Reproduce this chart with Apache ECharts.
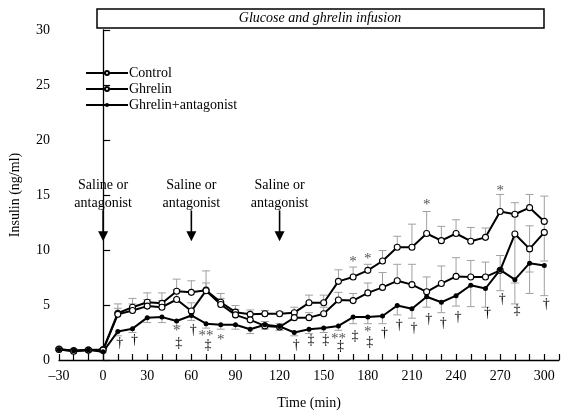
<!DOCTYPE html>
<html><head><meta charset="utf-8">
<script src="https://cdn.jsdelivr.net/npm/echarts@6/dist/echarts.min.js"></script>
<style>html,body{margin:0;padding:0;background:#fff}#c{width:567px;height:415px}</style>
</head><body><div id="c"></div>
<script>
// ---- data ----
const times = [-30,-20,-10,0,10,20,30,40,50,60,70,80,90,100,110,120,130,140,150,160,170,180,190,200,210,220,230,240,250,260,270,280,290,300];
const control = [1.0,0.85,0.9,0.95,4.25,4.8,5.25,5.15,6.25,6.15,6.35,5.25,4.35,4.15,4.2,4.2,4.3,5.2,5.2,7.15,7.55,8.15,9.0,10.25,10.25,11.5,10.85,11.5,10.8,11.15,13.5,13.25,13.85,12.6];
const controlHi = [1.1,1.0,1.0,1.05,5.1,5.6,6.1,6.1,7.35,7.2,8.1,6.05,4.95,4.55,4.5,4.4,4.8,5.9,5.9,8.2,8.45,8.7,9.95,11.25,12.35,13.5,12.15,12.75,12.05,12.0,15.05,14.3,15.05,14.9];
const ghrelin = [0.95,0.8,0.9,0.9,4.15,4.5,4.9,4.8,5.5,4.45,6.3,5.05,4.1,3.65,3.1,3.0,3.85,3.85,4.2,5.45,5.4,6.1,6.6,7.2,6.85,6.2,6.95,7.6,7.55,7.55,8.15,11.45,10.1,11.6];
const ghrelinHi = [1.05,0.9,1.0,1.0,4.7,5.1,5.5,5.4,6.4,5.2,7.0,5.6,4.6,4.2,3.5,3.3,4.3,4.3,4.8,6.15,6.05,7.0,7.95,8.7,8.7,7.55,8.55,9.3,9.05,8.9,9.5,13.1,12.2,12.6];
const ghrelinLo = [0.95,0.8,0.9,0.9,4.15,4.5,4.9,4.8,5.5,4.45,6.3,5.05,4.1,3.65,3.1,3.0,3.85,3.85,4.2,5.45,5.4,6.1,6.6,7.2,6.85,6.2,6.95,7.6,7.55,7.55,8.15,7.0,8.0,9.0];
const ghrelinAnt = [0.95,0.85,0.9,0.75,2.6,2.85,3.85,3.9,3.55,4.05,3.3,3.2,3.2,2.8,3.2,3.05,2.5,2.8,2.9,3.1,3.9,3.9,4.0,4.95,4.65,5.75,5.25,5.85,6.8,6.5,8.2,7.3,8.8,8.6];
const ghrelinAntLo = [0.85,0.75,0.8,0.65,2.2,2.5,3.4,3.4,3.1,3.6,2.9,2.8,2.8,2.4,2.8,2.7,2.2,2.4,2.5,2.7,3.3,3.3,3.3,4.1,3.8,4.8,4.3,4.9,4.85,4.8,6.3,5.1,6.05,5.85];
const seriesNames = ['Control','Ghrelin','Ghrelin+antagonist'];
const xTickLabels = [-30,0,30,60,90,120,150,180,210,240,270,300];
const yTickLabels = [0,5,10,15,20,25,30];
const arrowTimes = [0,60,120];
const arrowText = 'Saline or\nantagonist';
// significance marks: [time, level, text]
const marks = [
  [10,1.5,'†'],[20,1.8,'†'],[50,2.6,'*'],[50,1.5,'‡'],[60,2.7,'†'],[70,2.15,'**'],[70,1.3,'‡'],[80,1.85,'*'],
  [130,1.3,'†'],[140,1.75,'‡'],[150,1.75,'‡'],[160,1.9,'**'],[160,1.2,'‡'],[170,2.15,'‡'],[180,2.5,'*'],[180,1.6,'‡'],
  [190,2.45,'†'],[200,3.15,'†'],[210,2.9,'†'],[220,3.7,'†'],[230,3.35,'†'],[240,3.9,'†'],[260,4.2,'†'],[270,5.5,'†'],[280,4.5,'‡'],[300,5.1,'†'],
  [170,8.9,'*'],[180,9.2,'*'],[220,14.1,'*'],[270,15.4,'*']
];

const FONT = '"Liberation Serif", "Times New Roman", serif';
const chart = echarts.init(document.getElementById('c'));

function errSeries(id, vals, lo, hi) {
  return {
    type: 'custom', name: id, silent: true, z: 1,
    data: times.map((t, i) => [t, vals[i], lo[i], hi[i]]),
    encode: { x: 0, y: [1, 2, 3] },
    renderItem(params, api) {
      const t = api.value(0), v = api.value(1), l = api.value(2), h = api.value(3);
      const children = [];
      const pv = api.coord([t, v]);
      const cap = 4;
      const st = { stroke: '#a0a0a0', lineWidth: 1 };
      if (h - v > 0.05) {
        const ph = api.coord([t, h]);
        children.push({ type: 'line', shape: { x1: pv[0], y1: pv[1], x2: ph[0], y2: ph[1] }, style: st });
        children.push({ type: 'line', shape: { x1: ph[0] - cap, y1: ph[1], x2: ph[0] + cap, y2: ph[1] }, style: st });
      }
      if (v - l > 0.05) {
        const pl = api.coord([t, l]);
        children.push({ type: 'line', shape: { x1: pv[0], y1: pv[1], x2: pl[0], y2: pl[1] }, style: st });
        children.push({ type: 'line', shape: { x1: pl[0] - cap, y1: pl[1], x2: pl[0] + cap, y2: pl[1] }, style: st });
      }
      return { type: 'group', children };
    }
  };
}

function lineSeries(name, vals, filled) {
  return {
    type: 'line', name, z: 3,
    data: times.map((t, i) => [t, vals[i]]),
    symbol: 'circle', symbolSize: filled ? 5 : 6,
    itemStyle: filled ? { color: '#000' } : { color: '#fff', borderColor: '#000', borderWidth: 1.1 },
    lineStyle: { color: '#000', width: 2 },
    emphasis: { disabled: true }
  };
}

const option = {
  animation: false,
  backgroundColor: '#fff',
  grid: { left: 59, right: 8, top: 30, bottom: 52 },
  legend: {
    data: seriesNames, orient: 'vertical', left: 85, top: 66, padding: 0,
    itemWidth: 42, itemHeight: 5, itemGap: 2,
    textStyle: { fontFamily: FONT, fontSize: 14, color: '#000', padding: [0, 0, 0, -4] }
  },
  xAxis: {
    type: 'value', min: -30, max: 310, interval: 10,
    name: 'Time (min)', nameLocation: 'middle', nameGap: 36,
    nameTextStyle: { fontFamily: FONT, fontSize: 14, color: '#000' },
    axisLine: { lineStyle: { color: '#000', width: 1.3 } },
    axisTick: { inside: true, length: 6, lineStyle: { color: '#000', width: 1.2 } },
    axisLabel: {
      fontFamily: FONT, fontSize: 14, color: '#000', margin: 9, showMaxLabel: true,
      formatter: v => xTickLabels.indexOf(v) >= 0 ? (v < 0 ? '\u2013' + Math.abs(v) : String(v)) : ''
    },
    splitLine: { show: false }
  },
  yAxis: {
    type: 'value', min: 0, max: 30, interval: 5,
    name: 'Insulin (ng/ml)', nameLocation: 'middle', nameGap: 37, nameRotate: 90,
    nameTextStyle: { fontFamily: FONT, fontSize: 14, color: '#000' },
    axisLine: { show: true, lineStyle: { color: '#000', width: 1.3 } },
    axisTick: { show: true, inside: true, length: 7, lineStyle: { color: '#000', width: 1.2 } },
    axisLabel: { fontFamily: FONT, fontSize: 14, color: '#000', margin: 9,
      formatter: v => yTickLabels.indexOf(v) >= 0 ? String(v) : '' },
    splitLine: { show: false }
  },
  graphic: [
    { type: 'rect', shape: { x: 97, y: 9, width: 447, height: 19 }, style: { fill: '#fff', stroke: '#000', lineWidth: 1.5 } },
    { type: 'text', x: 320, y: 18.5, style: { text: 'Glucose and ghrelin infusion', fontFamily: FONT, fontStyle: 'italic', fontSize: 14, fill: '#000', align: 'center', verticalAlign: 'middle' } }
  ],
  series: [
    errSeries('errC', control, control, controlHi),
    errSeries('errG', ghrelin, ghrelinLo, ghrelinHi),
    errSeries('errA', ghrelinAnt, ghrelinAntLo, ghrelinAnt),
    lineSeries('Control', control, false),
    lineSeries('Ghrelin', ghrelin, false),
    lineSeries('Ghrelin+antagonist', ghrelinAnt, true),
    {
      type: 'custom', name: 'marks', silent: true, z: 4,
      data: marks.map(m => [m[0], m[1]]),
      encode: { x: 0, y: 1 },
      renderItem(params, api) {
        const m = marks[params.dataIndex];
        const p = api.coord([m[0], m[1]]);
        const star = m[2].indexOf('*') >= 0;
        return { type: 'text', x: p[0] + (star ? 0 : 2), y: p[1],
          style: { text: m[2], fontFamily: FONT, fontSize: star ? 15 : 14, fill: star ? '#555' : '#000', align: 'center', verticalAlign: 'middle' } };
      }
    },
    {
      type: 'custom', name: 'arrows', silent: true, z: 4,
      data: arrowTimes.map(t => [t, 15.1, 13.6, 10.8]),
      encode: { x: 0, y: [1, 2, 3] },
      renderItem(params, api) {
        const t = api.value(0);
        const pt = api.coord([t, api.value(1)]);
        const p1 = api.coord([t, api.value(2)]);
        const p2 = api.coord([t, api.value(3)]);
        return { type: 'group', children: [
          { type: 'text', x: pt[0], y: pt[1], style: { text: arrowText, fontFamily: FONT, fontSize: 14, lineHeight: 18, fill: '#000', align: 'center', verticalAlign: 'middle' } },
          { type: 'line', shape: { x1: p1[0], y1: p1[1], x2: p2[0], y2: p2[1] - 8 }, style: { stroke: '#000', lineWidth: 1.6 } },
          { type: 'polygon', shape: { points: [[p2[0] - 5, p2[1] - 10], [p2[0] + 5, p2[1] - 10], [p2[0], p2[1]]] }, style: { fill: '#000' } }
        ] };
      }
    }
  ]
};
chart.setOption(option);
</script>
</body></html>
